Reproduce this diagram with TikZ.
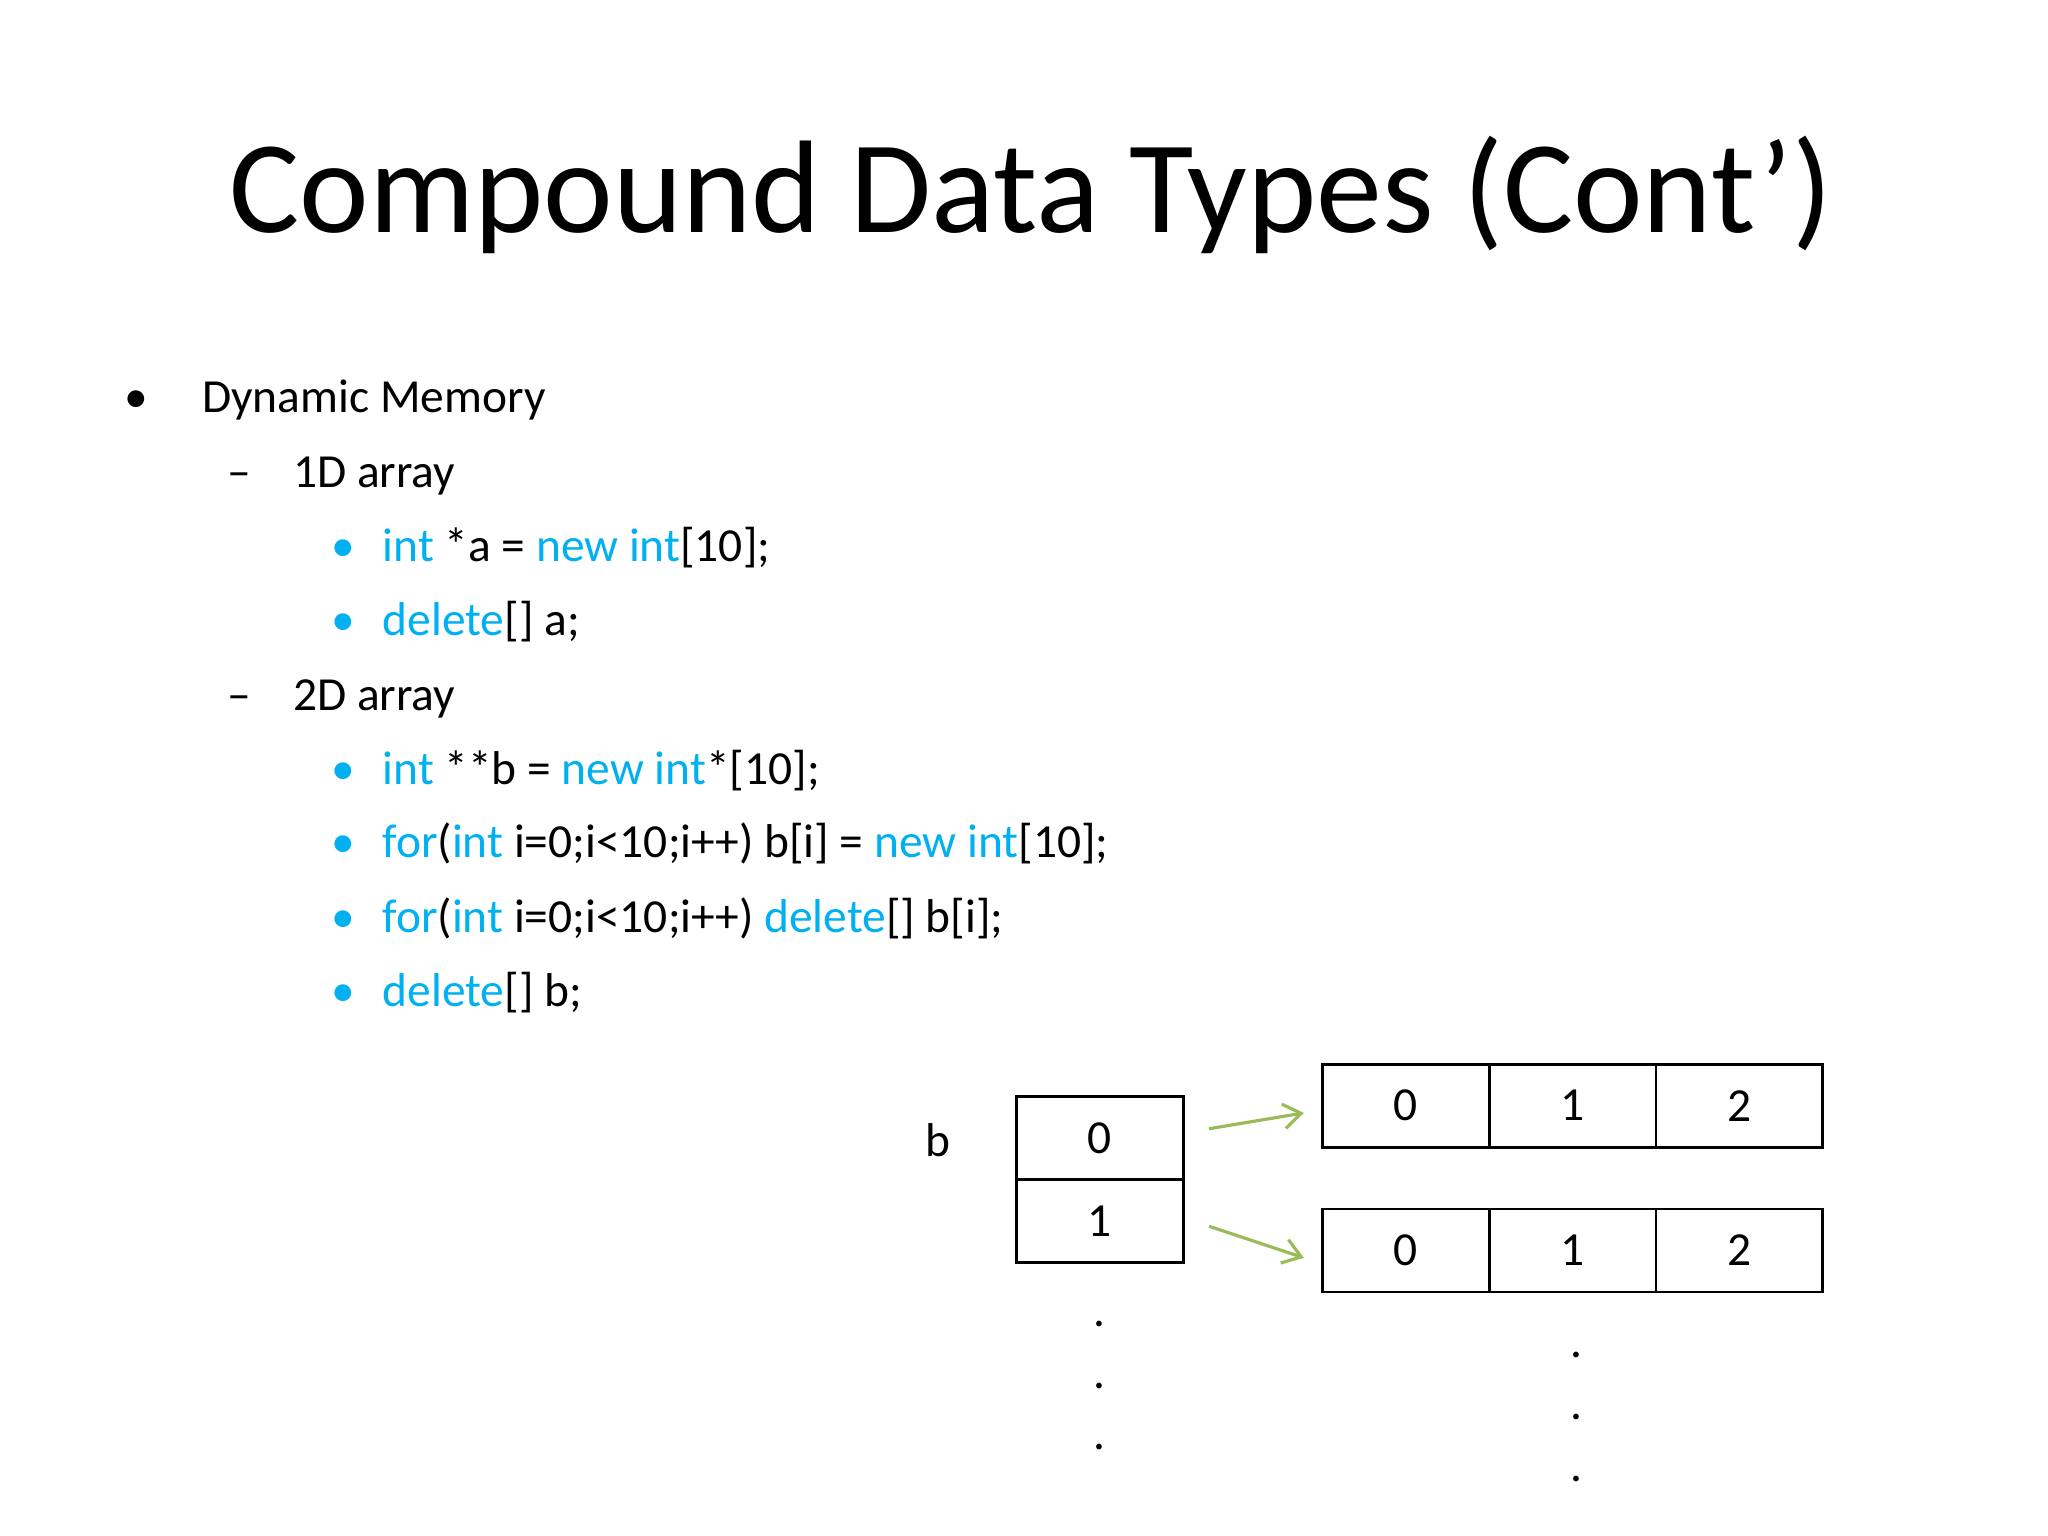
\documentclass[tikz,border=0pt]{standalone}
\usepackage{fontspec}
\setmainfont{Carlito}
\usetikzlibrary{arrows.meta}
\definecolor{kw}{RGB}{0,176,240}
\definecolor{arr}{RGB}{155,187,89}
\begin{document}
\begin{tikzpicture}[x=0.01317cm,y=-0.01317cm,
  txt/.style={anchor=mid west,inner sep=0pt,font=\fontsize{13.5pt}{16pt}\selectfont},
  cell/.style={draw,line width=0.8pt,minimum width=126.7*0.01317cm,minimum height=63*0.01317cm,inner sep=0pt,font=\fontsize{13.5pt}{16pt}\selectfont},
  dot/.style={inner sep=0pt,font=\fontsize{13.5pt}{16pt}\selectfont},
  link/.style={arr,line width=0.9pt,-{Straight Barb[length=5pt,width=7pt]}}]
\useasboundingbox (0,0) rectangle (1555,1166);
\node[font=\fontsize{37.5pt}{44pt}\selectfont] (title) at (783,148) {Compound Data Types (Cont’)};
\node[txt] (b0) at (94,307) {•};
\node[txt] (t0) at (153,307) {Dynamic Memory};
\node[txt] (d1) at (172,364) {–};
\node[txt] (t1) at (222,364) {1D array};
\node[txt,kw] (bb1) at (251,420) {•};
\node[txt] (t2) at (290,420) {\textcolor{kw}{int} *a = \textcolor{kw}{new int}[10];};
\node[txt,kw] (bb2) at (251,476) {•};
\node[txt] (t3) at (290,476) {\textcolor{kw}{delete}[] a;};
\node[txt] (d2) at (172,533) {–};
\node[txt] (t4) at (222,533) {2D array};
\node[txt,kw] (bb3) at (251,589) {•};
\node[txt] (t5) at (290,589) {\textcolor{kw}{int} **b = \textcolor{kw}{new int}*[10];};
\node[txt,kw] (bb4) at (251,645) {•};
\node[txt] (t6) at (290,645) {\textcolor{kw}{for}(\textcolor{kw}{int} i=0;i<10;i++) b[i] = \textcolor{kw}{new int}[10];};
\node[txt,kw] (bb5) at (251,702) {•};
\node[txt] (t7) at (290,702) {\textcolor{kw}{for}(\textcolor{kw}{int} i=0;i<10;i++) \textcolor{kw}{delete}[] b[i];};
\node[txt,kw] (bb6) at (251,758) {•};
\node[txt] (t8) at (290,758) {\textcolor{kw}{delete}[] b;};
% left column
\node[dot] (blab) at (712,866) {b};
\node[cell] (c0) at (835,864) {0};
\node[cell] (c1) at (835,927) {1};
\node[dot] (v1) at (835,1005) {.};
\node[dot] (v2) at (835,1052) {.};
\node[dot] (v3) at (835,1099) {.};
% right arrays
\node[cell] (r00) at (1067.3,839.5) {0};
\node[cell] (r01) at (1194,839.5) {1};
\node[cell] (r02) at (1320.7,839.5) {2};
\node[cell] (r10) at (1067.3,949.5) {0};
\node[cell] (r11) at (1194,949.5) {1};
\node[cell] (r12) at (1320.7,949.5) {2};
\node[dot] (w1) at (1197,1029) {.};
\node[dot] (w2) at (1197,1076) {.};
\node[dot] (w3) at (1197,1123) {.};
\coordinate (a0s) at (918,857); \coordinate (a0e) at (990,845);
\coordinate (a1s) at (918,931); \coordinate (a1e) at (990,955);
\draw[link] (a0s) -- (a0e);
\draw[link] (a1s) -- (a1e);
\end{tikzpicture}
\end{document}
